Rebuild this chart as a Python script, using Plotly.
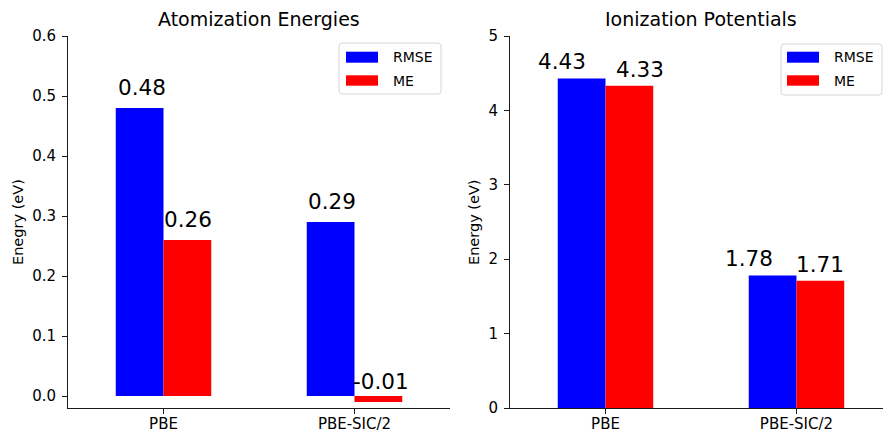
import plotly.graph_objects as go

# ---- data -------------------------------------------------------------
categories = ["PBE", "PBE-SIC/2"]
series_names = ["RMSE", "ME"]
series_colors = ["#0000ff", "#ff0000"]

ae_rmse = [0.48, 0.29]   # atomization energies (eV)
ae_me = [0.26, -0.01]
ip_rmse = [4.43, 1.78]   # ionization potentials (eV)
ip_me = [4.33, 1.71]

# ---- figure geometry (pixels) ------------------------------------------
W, H = 883, 433
TOP, BOTTOM = 36, 408          # plot area top / bottom in pixels
FONT = "DejaVu Sans"


def px_x(p):
    return p / W


def px_y(p):
    return 1 - (p - TOP) / (BOTTOM - TOP)


fig = go.Figure()

panels = [
    dict(xa="x", ya="y", rmse=ae_rmse, me=ae_me),
    dict(xa="x2", ya="y2", rmse=ip_rmse, me=ip_me),
]
for pan in panels:
    for name, vals, col in zip(series_names, [pan["rmse"], pan["me"]], series_colors):
        fig.add_trace(go.Bar(
            x=categories, y=vals, name=name,
            marker=dict(color=col, line=dict(width=0)),
            xaxis=pan["xa"], yaxis=pan["ya"], showlegend=False,
        ))

axis_common = dict(
    showline=True, linecolor="#1a1a1a", linewidth=1,
    ticks="outside", ticklen=5, tickwidth=1, tickcolor="#1a1a1a",
    showgrid=False, zeroline=False, automargin=False,
    tickfont=dict(family=FONT, size=15, color="black"),
)

fig.update_layout(
    width=W, height=H,
    margin=dict(l=0, r=0, t=TOP, b=H - BOTTOM),
    paper_bgcolor="white", plot_bgcolor="white",
    barmode="group", bargap=0.5, bargroupgap=0,
    showlegend=False,
    xaxis=dict(domain=[px_x(68), px_x(450)], range=[-0.5, 1.5], anchor="y",
               type="category", ticklabelstandoff=-3, **axis_common),
    yaxis=dict(range=[-0.02, 0.6001], anchor="x",
               tickvals=[0, 0.1, 0.2, 0.3, 0.4, 0.5, 0.6], tickformat=".1f",
               ticklabelstandoff=3, **axis_common),
    xaxis2=dict(domain=[px_x(510), 1.0], range=[-0.5, 1.453], anchor="y2",
                type="category", ticklabelstandoff=-3, **axis_common),
    yaxis2=dict(range=[0, 5.0001], anchor="x2",
                tickvals=[0, 1, 2, 3, 4, 5], ticklabelstandoff=3, **axis_common),
)

annotations = []

# value labels above bars
label_font = dict(family=FONT, size=21.5, color="black")
bar_offsets = [-0.125, 0.125]
panel_labels = [
    dict(xref="x", yref="y", series=[ae_rmse, ae_me], pad=0.01,
         shifts=[[2, 1], [1, 3]]),
    dict(xref="x2", yref="y2", series=[ip_rmse, ip_me], pad=0.03,
         shifts=[[-20, 11], [-24, 0]]),
]
for pl in panel_labels:
    for s, vals in enumerate(pl["series"]):
        for i, v in enumerate(vals):
            annotations.append(dict(
                x=i + bar_offsets[s], y=v + pl["pad"],
                xref=pl["xref"], yref=pl["yref"],
                text=f"{v:.2f}", showarrow=False,
                xanchor="center", yanchor="bottom",
                xshift=pl["shifts"][i][s], font=label_font,
            ))

# panel titles
title_font = dict(family=FONT, size=19, color="black")
for text, cx in [("Atomization Energies", (68 + 450) / 2),
                 ("Ionization Potentials", (510 + 891) / 2)]:
    annotations.append(dict(
        x=px_x(cx), y=px_y(19.5), xref="paper", yref="paper",
        text=text, showarrow=False, xanchor="center", yanchor="middle",
        font=title_font,
    ))

# y-axis titles
for text, cx in [("Enegry (eV)", 18), ("Energy (eV)", 474)]:
    annotations.append(dict(
        x=px_x(cx), y=px_y((TOP + BOTTOM) / 2), xref="paper", yref="paper",
        text=text, showarrow=False, textangle=-90,
        xanchor="center", yanchor="middle",
        font=dict(family=FONT, size=14.5, color="black"),
    ))

# legends (one per panel)
shapes = []
legend_font = dict(family=FONT, size=14, color="black")


def rounded_rect(x0, y0, x1, y1, r=3):
    X = px_x
    Y = px_y
    return (f"M{X(x0 + r)},{Y(y0)} L{X(x1 - r)},{Y(y0)} "
            f"Q{X(x1)},{Y(y0)} {X(x1)},{Y(y0 + r)} "
            f"L{X(x1)},{Y(y1 - r)} Q{X(x1)},{Y(y1)} {X(x1 - r)},{Y(y1)} "
            f"L{X(x0 + r)},{Y(y1)} Q{X(x0)},{Y(y1)} {X(x0)},{Y(y1 - r)} "
            f"L{X(x0)},{Y(y0 + r)} Q{X(x0)},{Y(y0)} {X(x0 + r)},{Y(y0)} Z")


for bx0, bx1, by0, by1, patch_x0, patch_x1, text_x in [
    (339, 441, 43, 94, 346, 378, 391),
    (781, 882, 44, 95, 787, 819, 832),
]:
    shapes.append(dict(type="path", xref="paper", yref="paper",
                       path=rounded_rect(bx0, by0, bx1, by1),
                       line=dict(color="#d6d6d6", width=1),
                       fillcolor="rgba(255,255,255,0.8)", layer="above"))
    for (py0, py1), name, col in zip([(51.7, 62.7), (75.3, 85.7)],
                                     series_names, series_colors):
        shapes.append(dict(type="rect", xref="paper", yref="paper",
                           x0=px_x(patch_x0), x1=px_x(patch_x1),
                           y0=px_y(py1), y1=px_y(py0),
                           fillcolor=col, line=dict(width=0), layer="above"))
        annotations.append(dict(
            x=px_x(text_x), y=px_y((py0 + py1) / 2), xref="paper", yref="paper",
            text=name, showarrow=False, xanchor="left", yanchor="middle",
            font=legend_font,
        ))

fig.update_layout(annotations=annotations, shapes=shapes)

fig.write_html("out.html")
